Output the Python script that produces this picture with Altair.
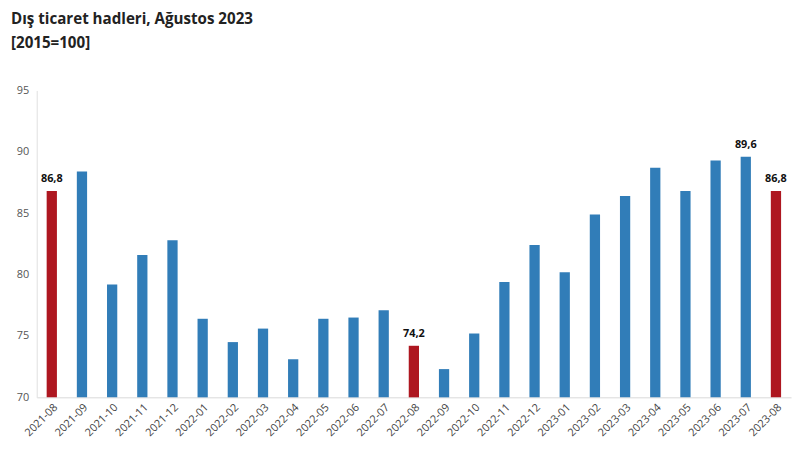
import altair as alt
import pandas as pd

months = ["2021-08","2021-09","2021-10","2021-11","2021-12","2022-01","2022-02","2022-03",
          "2022-04","2022-05","2022-06","2022-07","2022-08","2022-09","2022-10","2022-11",
          "2022-12","2023-01","2023-02","2023-03","2023-04","2023-05","2023-06","2023-07","2023-08"]
values = [86.8, 88.4, 79.2, 81.6, 82.8, 76.4, 74.5, 75.6, 73.1, 76.4, 76.5, 77.1, 74.2,
          72.3, 75.2, 79.4, 82.4, 80.2, 84.9, 86.4, 88.7, 86.8, 89.3, 89.6, 86.8]
highlight = ["2021-08", "2022-08", "2023-08"]
labelled = ["2021-08", "2022-08", "2023-07", "2023-08"]

df = pd.DataFrame({"month": months, "value": values})
df["kind"] = ["red" if m in highlight else "blue" for m in months]
df["label"] = [f"{v:.1f}".replace(".", ",") if m in labelled else "" for m, v in zip(months, values)]

FONT = "Open Sans"

x = alt.X("month:N", sort=months, title=None,
          scale=alt.Scale(paddingInner=0.66, paddingOuter=0.33, round=False),
          axis=alt.Axis(labelAngle=-45, labelFontSize=11, labelColor="#444", labelFont=FONT,
                        ticks=False, domainColor="#d9d9d9", labelPadding=4))
y = alt.Y("value:Q", title=None,
          scale=alt.Scale(domain=[70, 95], zero=False, clamp=True, nice=False),
          axis=alt.Axis(values=[70, 75, 80, 85, 90, 95], grid=False, ticks=False,
                        domainColor="#e0e0e0", labelFontSize=11, labelColor="#555",
                        labelFont=FONT, labelPadding=8))

bars = alt.Chart(df).mark_bar().encode(
    x=x, y=y, y2=alt.datum(70),
    color=alt.Color("kind:N", scale=alt.Scale(domain=["blue", "red"], range=["#317db8", "#ae1720"]), legend=None),
)

text = alt.Chart(df).mark_text(dy=-12, fontSize=11, fontWeight="bold", font=FONT, color="#111").encode(
    x=alt.X("month:N", sort=months), y="value:Q", text="label:N"
)

chart = alt.layer(bars, text).properties(
    width=762, height=310,
    autosize=alt.AutoSizeParams(type="none"),
    padding={"left": 29, "top": 81, "right": 4, "bottom": 60},
    title=alt.TitleParams(["Dış ticaret hadleri, Ağustos 2023", "[2015=100]"],
                          anchor="start", fontSize=15.3, fontWeight="bold", font=FONT,
                          color="#222", lineHeight=24, dx=-26, offset=34, frame="group"),
).configure_view(stroke=None)

chart.save("out.html", embed_options={"renderer": "svg", "actions": False})
